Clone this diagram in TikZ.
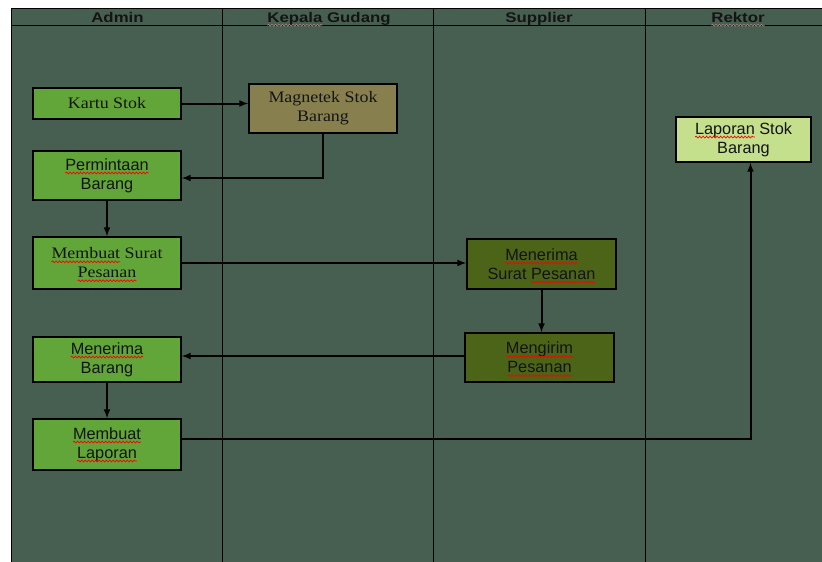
\documentclass[tikz,border=0pt]{standalone}
\usepackage{fontspec}
\setmainfont[FakeStretch=1.12]{Liberation Serif}
\newfontfamily\arial{Liberation Sans}
\newfontfamily\headfont[FakeStretch=1.2]{Liberation Sans}
\usepackage{xcolor}
\usepackage{tikz}
\usetikzlibrary{arrows,calc,positioning,decorations.pathmorphing}
\newcommand{\arrtip}{latex}
% spell-check wave under a word
\newcommand{\spell}[2][red]{\tikz[baseline=(w.base),x=1pt,y=1pt]{%
  \node[draw=none,fill=none,inner sep=0pt,outer sep=0pt,minimum width=0pt,minimum height=0pt] (w) {#2};
  \draw[overlay,#1,line width=0.7pt,decorate,decoration={snake,amplitude=0.9pt,segment length=3.5pt}]
    ([yshift=-2.8pt]w.base west) -- ([yshift=-2.8pt]w.base east);}}
\definecolor{lanebg}{HTML}{465F50}
\definecolor{boxgreen}{HTML}{62A539}
\definecolor{boxolive}{HTML}{877F4D}
\definecolor{boxdark}{HTML}{4B6418}
\definecolor{boxlight}{HTML}{C4E08C}
\definecolor{ink}{HTML}{141414}
\definecolor{headwave}{HTML}{B08080}

\begin{document}
\begin{tikzpicture}
[x=1pt,y=-1pt,>=\arrtip,
 box/.style={draw=black,line width=1.8pt,text=ink,align=center,inner sep=0pt,
   minimum width=148pt,font=\fontsize{16}{19}\selectfont},
 sans/.style={font=\arial\fontsize{16.3}{19}\selectfont},
 head/.style={anchor=base,inner sep=0pt,text=ink,font=\headfont\bfseries\fontsize{14}{16}\selectfont},
 flow/.style={->,line width=2pt}]
\useasboundingbox (0,0) rectangle (822,562);
% lanes
\fill[white] (0,0) rectangle (822,562);
\fill[lanebg] (11,8) rectangle (822,562);
\draw[line width=0.8pt] (11,562) -- (11,8) -- (822,8);
\draw[line width=0.8pt] (11,25.5) -- (822,25.5);
\foreach \x in {222,433,645}
  \draw[line width=0.8pt] (\x,8) -- (\x,562);
\node[head] (h1) at (117.5,22.5) {Admin};
\node[head] (h2) at (329,22.5) {\spell[headwave]{Kepala} Gudang};
\node[head] (h3) at (539,22.5) {Supplier};
\node[head] (h4) at (738,22.5) {\spell[headwave]{Rektor}};
% boxes
\node[box,fill=boxgreen,minimum height=31pt] (ks) at (107,103.5) {Kartu Stok};
\node[box,fill=boxolive,minimum height=49pt] (mg) at (323,108.5) {Magnetek Stok\\Barang};
\node[box,sans,fill=boxgreen,minimum height=49pt] (pb) at (107,175.5) {\spell{Permintaan}\\Barang};
\node[box,fill=boxgreen,minimum height=52pt] (sp) at (107,263) {\spell{Membuat} Surat\\\spell{Pesanan}};
\node[box,sans,fill=boxgreen,minimum height=45pt] (mb) at (107,359.5) {\spell{Menerima}\\Barang};
\node[box,sans,fill=boxgreen,minimum height=51pt] (ml) at (107,444.5) {\spell{Membuat}\\\spell{Laporan}};
\node[box,sans,fill=boxdark,minimum height=50pt,minimum width=149pt] (ms) at (541.5,264) {\spell{Menerima}\\Surat \spell{Pesanan}};
\node[box,sans,fill=boxdark,minimum height=49pt,minimum width=149pt] (kp) at (539.5,357.5) {\spell{Mengirim}\\\spell{Pesanan}};
\node[box,sans,fill=boxlight,minimum height=45pt,minimum width=135pt] (ls) at (743.5,139.5) {\spell{Laporan} Stok\\Barang};
% connectors
\draw[flow] (ks.east) -- (ks.east -| mg.west);
\draw[flow] (mg.south) |- ([yshift=-2.5pt]pb.east);
\draw[flow] (pb) -- (sp);
\draw[flow] (sp.east) -- (sp.east -| ms.west);
\draw[flow] (ms.south) -- (ms.south |- kp.north);
\draw[flow] ([yshift=1.5pt]kp.west) -- ([yshift=1.5pt]kp.west -| mb.east);
\draw[flow] (mb) -- (ml);
\draw[flow] ([yshift=5.5pt]ml.east) -| ([xshift=7pt]ls.south);
\end{tikzpicture}
\end{document}
